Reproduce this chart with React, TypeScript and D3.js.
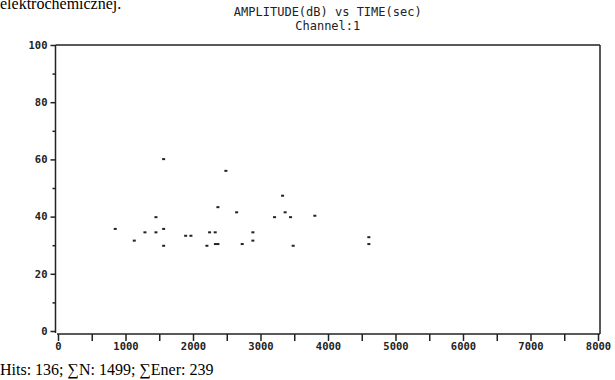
import React, { useRef, useEffect } from 'react';
import * as d3 from 'd3';

// time (sec) of each hit
const hitTime = [
  848, 1130, 1288, 1451, 1451, 1565, 1565, 1565, 1891, 1969,
  2206, 2246, 2329, 2332, 2369, 2369, 2487, 2646, 2729, 2887,
  2887, 3208, 3327, 3365, 3445, 3484, 3805, 4605, 4605,
];
// amplitude (dB) of each hit
const hitAmp = [
  35.7, 31.6, 34.5, 39.8, 34.5, 60.1, 35.7, 29.8, 33.3, 33.3,
  29.8, 34.5, 34.5, 30.4, 30.4, 43.3, 56.0, 41.5, 30.4, 34.5,
  31.6, 39.8, 47.3, 41.5, 39.8, 29.8, 40.3, 32.8, 30.4,
];

const yMajor = [0, 20, 40, 60, 80, 100];
const yMinor = [10, 30, 50, 70, 90];
const xTicks = [0, 500, 1000, 1500, 2000, 2500, 3000, 3500, 4000, 4500, 5000, 5500, 6000, 6500, 7000, 7500, 8000];

const titleLines = ['AMPLITUDE(dB) vs TIME(sec)', 'Channel:1'];
const footer = 'Hits: 136; \u2211N: 1499; \u2211Ener: 239';
const header = 'elektrochemicznej.';

const App: React.FC = () => {
  const svgRef = useRef<SVGSVGElement>(null);
  const width = 615;
  const height = 380;
  const plot = { left: 55.5, right: 600, top: 45, bottom: 334 };
  const mono = '"DejaVu Sans Mono", monospace';
  const serif = '"Liberation Serif", "Times New Roman", serif';
  const ink = '#222';

  useEffect(() => {
    if (!svgRef.current) return;
    const svg = d3.select(svgRef.current);
    svg.selectAll('*').remove();

    const x = d3.scaleLinear().domain([0, 8000]).range([58, 598]);
    const y = d3.scaleLinear().domain([0, 100]).range([331, 45]);

    // page text around the figure (top line is cut by the page edge, as in the scan)
    svg.append('text')
      .attr('x', 0)
      .attr('y', 9)
      .attr('font-family', serif)
      .attr('font-size', 16)
      .attr('fill', '#000')
      .text(header);

    svg.append('text')
      .attr('x', 0)
      .attr('y', 375)
      .attr('font-family', serif)
      .attr('font-size', 16)
      .attr('fill', '#000')
      .text(footer);

    // title
    titleLines.forEach((t, i) => {
      svg.append('text')
        .attr('x', (plot.left + plot.right) / 2)
        .attr('y', 16 + i * 14)
        .attr('text-anchor', 'middle')
        .attr('font-family', mono)
        .attr('font-size', 12)
        .attr('fill', ink)
        .text(t);
    });

    // frame
    const frame = svg.append('g').attr('stroke', ink).attr('stroke-width', 1.5).attr('fill', 'none');
    frame.append('line').attr('x1', plot.left).attr('x2', plot.left).attr('y1', plot.top).attr('y2', plot.bottom - 1);
    frame.append('line').attr('x1', plot.left).attr('x2', plot.right).attr('y1', plot.top).attr('y2', plot.top);
    frame.append('line').attr('x1', plot.right).attr('x2', plot.right).attr('y1', plot.top).attr('y2', plot.bottom);
    frame.append('line').attr('x1', 57).attr('x2', plot.right).attr('y1', plot.bottom).attr('y2', plot.bottom);

    // y axis
    const yAxis = svg.append('g')
      .attr('transform', `translate(${plot.left},0)`)
      .call(d3.axisLeft(y).tickValues(yMajor).tickSize(5).tickPadding(3).tickFormat(d3.format('d')));
    yAxis.select('.domain').remove();
    yAxis.selectAll('line').attr('stroke', ink).attr('stroke-width', 1.5);
    yAxis.selectAll('text').attr('font-family', mono).attr('font-size', 10.5).attr('font-weight', 'bold').attr('fill', ink);

    const yMinorAxis = svg.append('g')
      .attr('transform', `translate(${plot.left},0)`)
      .call(d3.axisLeft(y).tickValues(yMinor).tickSize(3).tickFormat(() => ''));
    yMinorAxis.select('.domain').remove();
    yMinorAxis.selectAll('line').attr('stroke', ink).attr('stroke-width', 1.5);

    // x axis
    const xAxis = svg.append('g')
      .attr('transform', `translate(0,${plot.bottom})`)
      .call(d3.axisBottom(x).tickValues(xTicks).tickSize(7).tickPadding(2)
        .tickFormat(d => (+d % 1000 === 0 ? d3.format('d')(+d) : '')));
    xAxis.select('.domain').remove();
    xAxis.selectAll('line').attr('stroke', ink).attr('stroke-width', 1.5);
    xAxis.selectAll('text').attr('font-family', mono).attr('font-size', 10.5).attr('font-weight', 'bold').attr('fill', ink);

    // hits
    svg.append('g')
      .selectAll('rect')
      .data(hitTime.map((t, i) => ({ t, a: hitAmp[i] })))
      .enter()
      .append('rect')
      .attr('x', d => x(d.t) - 1.5)
      .attr('y', d => y(d.a) - 1)
      .attr('width', 3)
      .attr('height', 2)
      .attr('fill', ink);
  }, []);

  return (
    <div style={{ position: 'absolute', left: 0, top: 0, width, height, background: '#fff' }}>
      <svg ref={svgRef} width={width} height={height} style={{ display: 'block' }} />
    </div>
  );
};

export default App;
